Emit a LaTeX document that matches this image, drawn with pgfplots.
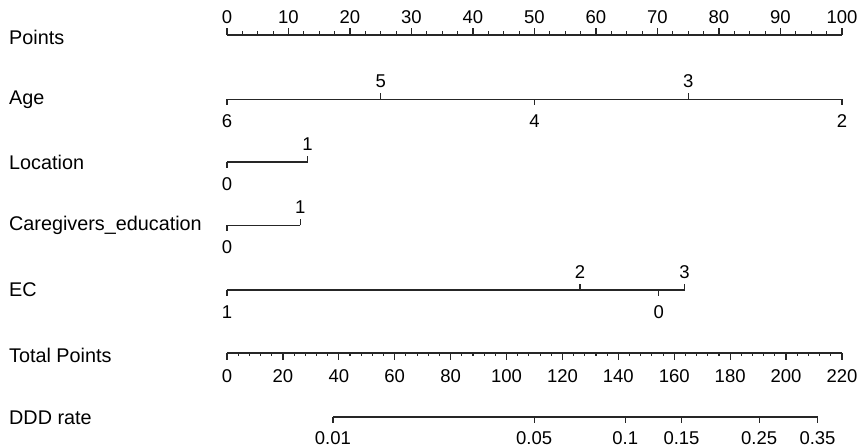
\documentclass[border=0pt]{standalone}
\usepackage{fontspec}
\setmainfont{Liberation Sans}
\usepackage{pgfplots}
\pgfplotsset{compat=1.18}
\begin{document}
\begin{tikzpicture}
\begin{axis}[scale only axis, width=864pt, height=447pt,
  xmin=-36.91, xmax=103.58, ymin=-447, ymax=0,
  axis line style={draw=none}, ticks=none, clip=false,
  sl/.style={black!85, line width=1.2pt, mark=none},
  tl/.style={black!85, line width=1.2pt, mark=none, quiver={u=0, v=\thisrow{v}}},
  lab/.style={black, draw=none, mark=none, nodes near coords, point meta=explicit symbolic,
    nodes near coords style={anchor=center, inner sep=0pt, font=\fontsize{18.5}{18.5}\selectfont}},
  name/.style={black, draw=none, mark=none, nodes near coords, point meta=explicit symbolic,
    nodes near coords style={anchor=west, inner sep=0pt, font=\fontsize{19.8}{19.8}\selectfont}},
]
% ---------- row names ----------
\addplot[name] table[meta=l] {
x y l
-35.45 -37 Points
-35.45 -100 Age
-35.45 -162 Location
-35.45 -225.5 Caregivers\_education
-35.45 -290 EC
-35.45 -355 {Total Points}
-35.45 -418 {DDD rate}
};
% ---------- Points ----------
\addplot[sl] coordinates {(0,-35) (100,-35)};
\addplot[tl] table[y expr=-35] {
x v
0 7
10 7
20 7
30 7
40 7
50 7
60 7
70 7
80 7
90 7
100 7
};
\addplot[black!85, line width=1.1pt, mark=none, quiver={u=0, v=3.5}] table[y expr=-35] {
x
2.5
5
7.5
12.5
15
17.5
22.5
25
27.5
32.5
35
37.5
42.5
45
47.5
52.5
55
57.5
62.5
65
67.5
72.5
75
77.5
82.5
85
87.5
92.5
95
97.5
};
\addplot[lab] table[y expr=-17, meta=l] {
x l
0 0
10 10
20 20
30 30
40 40
50 50
60 60
70 70
80 80
90 90
100 100
};
% ---------- Age ----------
\addplot[sl] coordinates {(0,-99.5) (100,-99.5)};
\addplot[tl] table[y expr=-99.5] {
x v
0 -6
25 6
50 -6
75 6
100 -6
};
\addplot[lab] table[meta=l] {
x y l
0 -121.5 6
25 -81.5 5
50 -121.5 4
75 -81.5 3
100 -121.5 2
};
% ---------- Location ----------
\addplot[sl] coordinates {(0,-162) (13.1,-162)};
\addplot[tl] table[y expr=-162] {
x v
0 -6
13.1 6
};
\addplot[lab] table[meta=l] {
x y l
0 -184 0
13.1 -144 1
};
% ---------- Caregivers_education ----------
\addplot[sl] coordinates {(0,-225.5) (11.9,-225.5)};
\addplot[tl] table[y expr=-225.5] {
x v
0 -6
11.9 6
};
\addplot[lab] table[meta=l] {
x y l
0 -247.5 0
11.9 -207.5 1
};
% ---------- EC ----------
\addplot[sl] coordinates {(0,-290) (74.4,-290)};
\addplot[tl] table[y expr=-290] {
x v
0 -6
57.4 6
70.2 -6
74.4 6
};
\addplot[lab] table[meta=l] {
x y l
0 -312 1
57.4 -272 2
70.2 -312 0
74.4 -272 3
};
% ---------- Total Points ----------
\addplot[sl] coordinates {(0,-353) (100,-353)};
\addplot[tl] table[y expr=-353, x expr=\thisrow{tp}/2.2] {
tp v
0 -7
20 -7
40 -7
60 -7
80 -7
100 -7
120 -7
140 -7
160 -7
180 -7
200 -7
220 -7
};
\addplot[black!85, line width=1.1pt, mark=none, quiver={u=0, v=-3.5}] table[y expr=-353, x expr=\thisrow{tp}/2.2] {
tp
4
8
12
16
24
28
32
36
44
48
52
56
64
68
72
76
84
88
92
96
104
108
112
116
124
128
132
136
144
148
152
156
164
168
172
176
184
188
192
196
204
208
212
216
};
\addplot[lab] table[y expr=-376, x expr=\thisrow{tp}/2.2, meta=l] {
tp l
0 0
20 20
40 40
60 60
80 80
100 100
120 120
140 140
160 160
180 180
200 200
220 220
};
% ---------- DDD rate ----------
\addplot[sl] table[y expr=-417, x expr=\thisrow{tp}/2.2] {
tp
37.9
211.25
};
\addplot[tl] table[y expr=-417, x expr=\thisrow{tp}/2.2] {
tp v
37.9 -6
109.9 -6
142.45 -6
162.6 -6
190.35 -6
211.25 -6
};
\addplot[lab] table[y expr=-438, x expr=\thisrow{tp}/2.2, meta=l] {
tp l
37.9 0.01
109.9 0.05
142.45 0.1
162.6 0.15
190.35 0.25
211.25 0.35
};
\end{axis}
\end{tikzpicture}
\end{document}
